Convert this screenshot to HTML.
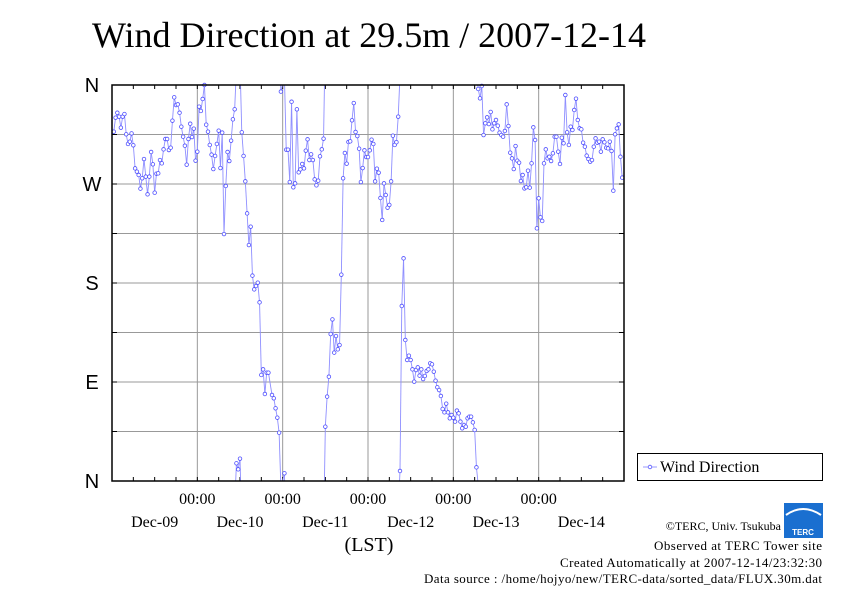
<!DOCTYPE html>
<html><head><meta charset="utf-8"><style>
body{margin:0;background:#fff;width:842px;height:595px;overflow:hidden;font-family:"Liberation Serif",serif}
svg{display:block}
</style></head><body>
<svg id="chart" width="842" height="595" xmlns="http://www.w3.org/2000/svg">
<text x="92" y="47" font-size="36" textLength="554" font-family="Liberation Serif, serif">Wind Direction at 29.5m / 2007-12-14</text>
<g id="grid"></g>
<g id="axes"></g>
<defs><clipPath id="pc"><rect x="112" y="85" width="512" height="396"/></clipPath></defs>
<g id="series" clip-path="url(#pc)"></g>
<g id="markers"></g>
<rect x="112" y="85" width="512" height="396" fill="none" stroke="#000" stroke-width="1.5"/>
<g>
<rect x="637.5" y="453.5" width="185" height="27" fill="#fff" stroke="#000"/>
<line x1="643" y1="467" x2="657" y2="467" stroke="#99f"/>
<circle cx="650" cy="467" r="1.8" fill="#fff" stroke="#55f" stroke-width="0.8"/>
<text x="660" y="472" font-size="16">Wind Direction</text>
</g>
<text x="369" y="551" font-size="20" text-anchor="middle">(LST)</text>
<g>
<rect x="784" y="503" width="39" height="35" fill="#1a6fd0"/>
<path d="M786 515 Q803 503 821 515" stroke="#fff" stroke-width="2" fill="none"/>
<text x="803" y="535" font-size="8" fill="#fff" text-anchor="middle" font-family="Liberation Sans, sans-serif" font-weight="bold">TERC</text>
</g>
<g text-anchor="end">
<text x="781" y="530" font-size="12">©TERC, Univ. Tsukuba</text>
<text x="822" y="550" font-size="13" textLength="168">Observed at TERC Tower site</text>
<text x="822" y="567" font-size="13" textLength="262">Created Automatically at 2007-12-14/23:32:30</text>
<text x="822" y="583" font-size="13" textLength="398">Data source : /home/hojyo/new/TERC-data/sorted_data/FLUX.30m.dat</text>
</g>
</svg>
<script>
const slots=[1,2,3,4,5,6,7,8,9,10,11,12,13,14,15,16,17,18,19,20,21,22,23,24,25,26,27,28,29,30,31,32,33,34,35,36,37,38,39,40,41,42,43,44,45,46,47,48,49,50,51,52,53,54,55,56,57,58,59,60,61,62,63,64,65,66,67,68,69,70,71,72,73,74,75,76,77,78,79,80,81,82,83,84,85,86,87,88,90,91,92,93,94,95,97,98,99,100,101,102,103,104,105,106,107,108,109,110,111,112,113,114,115,116,117,118,119,120,121,122,123,124,125,126,127,128,129,130,131,132,133,134,135,136,137,138,139,140,141,142,143,144,145,146,147,148,149,150,151,152,153,154,155,156,157,158,159,160,161,162,163,164,165,166,167,168,169,170,171,172,173,174,175,176,177,178,179,180,181,182,183,184,185,186,187,188,189,190,191,192,193,194,195,196,197,198,199,200,201,202,203,204,205,206,207,208,209,210,211,212,213,214,215,216,217,218,219,220,221,222,223,224,225,226,227,228,229,230,231,232,233,234,235,236,237,238,239,240,241,242,243,244,245,246,247,248,249,250,251,252,253,254,255,256,257,258,259,260,261,262,263,264,265,266,267,268,269,270,271,272,273,274,275,276,277,278,279,280,281,282,283,284,285,286,287];
const hours=slots.map(s=>s/2);
const direction=[317.6,330.3,334.8,331.2,321.2,331.2,333.6,315.2,306.4,308.5,316,305.2,284.2,281.2,278.2,265.8,275.2,292.7,276.7,260.6,276.7,299.1,287.9,262.1,279.4,279.7,291.8,288.8,301.5,310.9,310.9,300.9,303,327.6,348.8,341.8,342.4,334.8,322.1,313,304.8,287.6,310.9,324.8,312.7,320.3,291.2,299.4,340.3,336.4,347.3,360,323.9,317.6,305.5,296.7,283.6,295.5,306.4,318.5,284.5,316.7,224.5,268.2,299.1,290.9,309.4,328.8,337.9,16.1,10.6,20.3,317,295.5,272.4,243.3,214.5,231.2,186.7,174.2,177.3,180.3,162.4,96.4,101.5,79.1,98.5,98.5,78.2,75.2,66.1,57.6,43.9,354,7,301.2,301.2,271.8,344.8,267,270.6,337.9,280.6,283.3,288.2,284.2,300.3,310.6,291.8,297,291.8,274.2,268.8,273,295.2,301.5,311.2,49.4,76.7,94.8,133.6,146.9,116.7,131.8,119.7,123.6,187.6,275.2,298.2,288.5,308.2,308.8,327.9,343.6,317.3,313.6,302.1,271.8,284.5,300.6,294.5,294.5,300.6,310.3,306.4,272.4,283.9,280.3,257.3,237.3,270.6,260,248.5,251,272.4,313.9,305.5,308,331.2,9.1,159.1,202.4,128.2,110,113.9,110,101.5,90.3,100.9,103.3,95.8,101.5,92.7,95.5,100,101.5,107,106.1,99.4,91.2,85.2,82.7,77.3,65.5,62.4,70.3,62.4,57,60,57.6,54,64,61.5,54,47.9,50.9,49.4,57,58.5,58.5,53.3,46.4,12.4,356.4,347.9,359.1,314.5,325.2,330.6,324.5,335.5,319.7,325.2,328.2,323,316.7,314.5,313,318.2,342.4,322.7,298.5,293.3,283.6,304.5,291.2,289.4,272.7,278.2,266,267,282.1,266.7,288.8,321.5,310,229.7,257,239.7,236.4,288.8,301.5,293.3,294.8,290.9,297.9,313,313,299.4,288.2,312.1,307,350.9,317,305.5,322.1,319.1,337.3,347.6,328.2,320.6,319.7,307.6,303.9,295.8,292.7,290.3,291.8,303.9,311.5,307.6,308.5,299.4,310.6,307.9,303,302.4,308.5,300,263.9,315.2,320.6,324.2,294.8,275.8];
const yTickLabels=["N","E","S","W","N"];
const yTickValues=[0,90,180,270,360];
const xTimeLabels=["00:00","00:00","00:00","00:00","00:00"];
const xTimeValues=[24,48,72,96,120];
const xDayLabels=["Dec-09","Dec-10","Dec-11","Dec-12","Dec-13","Dec-14"];

const X0=112,X1=624,Y0=85,Y1=481,TMAX=144;
const xs=h=>X0+(X1-X0)*h/TMAX;
const ys=d=>Y1-(Y1-Y0)*d/360;
const NS="http://www.w3.org/2000/svg";
function mk(tag,at,parent){const e=document.createElementNS(NS,tag);for(const k in at)e.setAttribute(k,at[k]);parent.appendChild(e);return e;}
const grid=document.getElementById('grid'),axes=document.getElementById('axes'),series=document.getElementById('series'),markers=document.getElementById('markers');
for(let d=45;d<360;d+=45){const l=mk('line',{x1:X0,x2:X1,y1:ys(d),y2:ys(d),stroke:'#999','stroke-width':1},grid);

}
xTimeValues.forEach(h=>{const l=mk('line',{x1:xs(h),x2:xs(h),y1:Y0,y2:Y1,stroke:'#999','stroke-width':1},grid);

});
for(let h=6;h<TMAX;h+=6){[[Y0,Y0+4],[Y1-4,Y1]].forEach(p=>{const t=mk('line',{x1:xs(h),x2:xs(h),y1:p[0],y2:p[1],stroke:'#000'},axes);

});}
for(let d=45;d<360;d+=45){[[X0,X0+5],[X1-5,X1]].forEach(p=>{const t=mk('line',{x1:p[0],x2:p[1],y1:ys(d),y2:ys(d),stroke:'#000'},axes);

});}
yTickValues.forEach((v,i)=>{const t=mk('text',{x:92,y:ys(v)+7,'font-size':20,'text-anchor':'middle','font-family':'Liberation Sans, sans-serif'},axes);t.textContent=yTickLabels[i];

});
xTimeValues.forEach((v,i)=>{const t=mk('text',{x:xs(v),y:504,'font-size':16,'text-anchor':'middle'},axes);t.textContent=xTimeLabels[i];

});
xDayLabels.forEach((s,i)=>{const t=mk('text',{x:xs(i*24+12),y:527,'font-size':16,'text-anchor':'middle'},axes);t.textContent=s;

});
function seg(h1,d1,h2,d2){const l=mk('line',{x1:xs(h1),y1:ys(d1),x2:xs(h2),y2:ys(d2),stroke:'#8f8fff','stroke-width':0.9},series);

}
for(let i=1;i<direction.length;i++){const a=direction[i-1],b=direction[i],ha=hours[i-1],hb=hours[i];
 if(b-a>180){seg(ha,a,hb,b-360);seg(ha,a+360,hb,b);}
 else if(a-b>180){seg(ha,a,hb,b+360);seg(ha,a-360,hb,b);}
 else seg(ha,a,hb,b);}
direction.forEach((d,i)=>{const c=mk('circle',{cx:xs(hours[i]),cy:ys(d),r:1.8,fill:'#fff',stroke:'#4f4fff','stroke-width':0.8},markers);

});
</script>
</body></html>
